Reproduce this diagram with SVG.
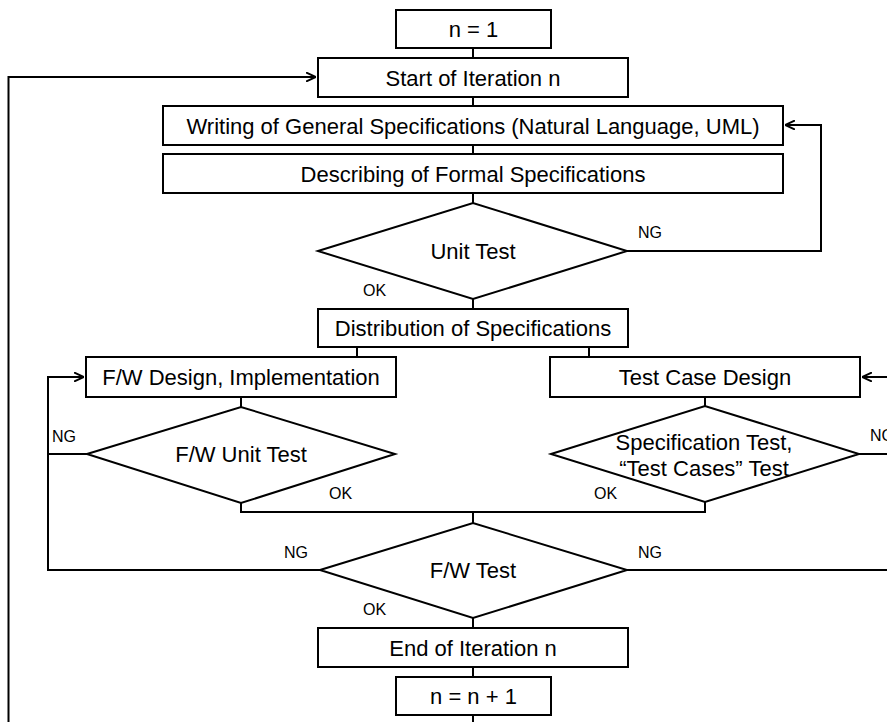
<svg xmlns="http://www.w3.org/2000/svg" width="887" height="722" viewBox="0 0 887 722">
<style>
.box{fill:#fff;stroke:#000;stroke-width:2}
.t{font-family:"Liberation Sans",Arial,sans-serif;font-size:22px;text-anchor:middle;fill:#000}
.l{font-family:"Liberation Sans",Arial,sans-serif;font-size:16px;fill:#000}
.c{fill:none;stroke:#000;stroke-width:2}
</style>
<defs>
<marker id="arr" viewBox="0 0 10 10" refX="10" refY="5" markerWidth="10" markerHeight="10" markerUnits="userSpaceOnUse" orient="auto">
<path d="M0,0.5 L10,5 L0,9.5" fill="none" stroke="#000" stroke-width="2"/>
</marker>
</defs>
<g id="connectors">
<path class="c" d="M473,48V58"/>
<path class="c" d="M473,97V106"/>
<path class="c" d="M473,145V154"/>
<path class="c" d="M473,193V203"/>
<path class="c" d="M473,299V309"/>
<path class="c" d="M357,347V357"/>
<path class="c" d="M589,347V357"/>
<path class="c" d="M241,397V407"/>
<path class="c" d="M705,397V406"/>
<path class="c" d="M241,503V512H705V502"/>
<path class="c" d="M473,512V523"/>
<path class="c" d="M473,618V628"/>
<path class="c" d="M473,667V677"/>
<path class="c" d="M473,715V722"/>
<path class="c" d="M8.5,722V77H316" marker-end="url(#arr)"/>
<path class="c" d="M627,251H821V125H785" marker-end="url(#arr)"/>
<path class="c" d="M87,454H48V377H84" marker-end="url(#arr)"/>
<path class="c" d="M320,570H48V454"/>
<path class="c" d="M859,454H887"/>
<path class="c" d="M627,570H887"/>
<path class="c" d="M887,377H862" marker-end="url(#arr)"/>
<text class="l" x="638" y="238">NG</text>
<text class="l" x="363" y="296">OK</text>
<text class="l" x="52" y="442">NG</text>
<text class="l" x="329" y="499">OK</text>
<text class="l" x="870" y="441">NG</text>
<text class="l" x="594" y="499">OK</text>
<text class="l" x="284" y="558">NG</text>
<text class="l" x="638" y="558">NG</text>
<text class="l" x="363" y="615">OK</text>
</g>
<g id="n1"><rect class="box" x="396" y="10" width="155" height="38"/><text class="t" x="473.5" y="37">n = 1</text></g>
<g id="start"><rect class="box" x="318" y="58" width="310" height="39"/><text class="t" x="473" y="85.5">Start of Iteration n</text></g>
<g id="writing"><rect class="box" x="163" y="106" width="620" height="39"/><text class="t" x="473" y="133.5">Writing of General Specifications (Natural Language, UML)</text></g>
<g id="describing"><rect class="box" x="163" y="154" width="620" height="39"/><text class="t" x="473" y="181.5">Describing of Formal Specifications</text></g>
<g id="unittest"><polygon class="box" points="318,251 473,203 627,251 473,299"/><text class="t" x="473" y="259">Unit Test</text></g>
<g id="distribution"><rect class="box" x="318" y="309" width="310" height="38"/><text class="t" x="473" y="336">Distribution of Specifications</text></g>
<g id="fwdesign"><rect class="box" x="86" y="357" width="310" height="40"/><text class="t" x="241" y="385">F/W Design, Implementation</text></g>
<g id="tcdesign"><rect class="box" x="550" y="357" width="310" height="40"/><text class="t" x="705" y="385">Test Case Design</text></g>
<g id="fwunit"><polygon class="box" points="87,454 241,407 395,454 241,503"/><text class="t" x="241" y="462">F/W Unit Test</text></g>
<g id="spectest"><polygon class="box" points="551,454 705,406 859,454 705,502"/><text class="t" x="704" y="450">Specification Test,</text><text class="t" x="704" y="476">“Test Cases” Test</text></g>
<g id="fwtest"><polygon class="box" points="320,570 473,523 627,570 473,618"/><text class="t" x="473" y="578">F/W Test</text></g>
<g id="end"><rect class="box" x="318" y="628" width="310" height="39"/><text class="t" x="473" y="655.5">End of Iteration n</text></g>
<g id="nplus"><rect class="box" x="396" y="677" width="155" height="38"/><text class="t" x="473.5" y="704">n = n + 1</text></g>
</svg>
